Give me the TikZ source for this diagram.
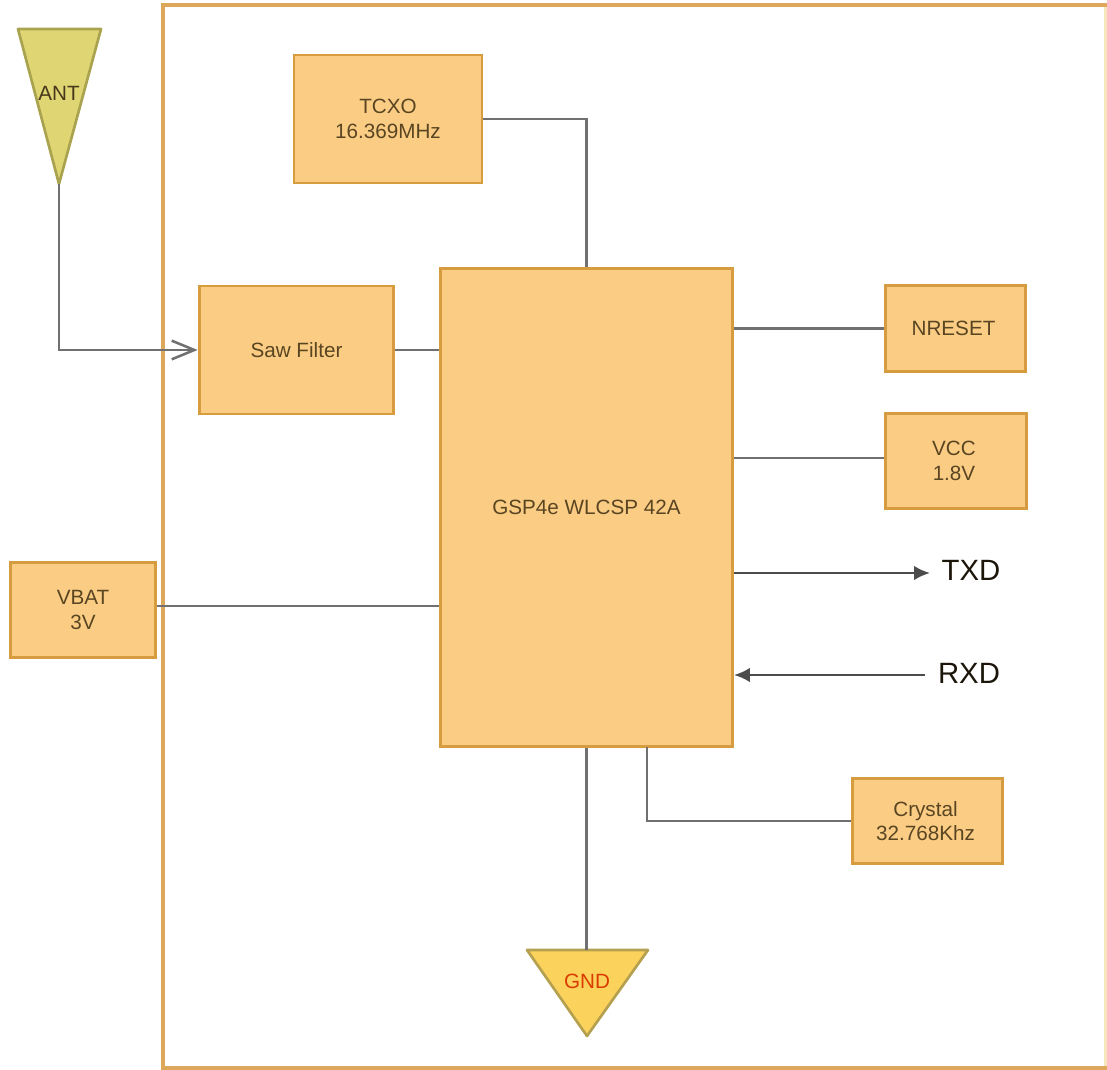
\documentclass[tikz,border=0pt]{standalone}
\usepackage{fontspec}
\setmainfont{Liberation Sans}
\usetikzlibrary{arrows.meta}
\definecolor{boxfill}{HTML}{FBCD84}
\definecolor{boxline}{HTML}{D89C40}
\definecolor{frameline}{HTML}{DDA85C}
\definecolor{framepale}{HTML}{F6E6BC}
\definecolor{antfill}{HTML}{DFD673}
\definecolor{antline}{HTML}{A9A24F}
\definecolor{gndfill}{HTML}{FBD25C}
\definecolor{gndline}{HTML}{B5A050}
\definecolor{wire}{HTML}{707070}
\definecolor{inktext}{HTML}{5A4522}
\tikzset{
  block/.style={draw=boxline,fill=boxfill,line width=2.2pt,align=center,inner sep=0pt,
    text=inktext,font=\fontsize{15.5}{18.5}\selectfont},
  wirelink/.style={draw=wire,line width=1.9pt},
  pinlabel/.style={text=black!70!inktext,font=\fontsize{22}{24}\selectfont,inner sep=0pt}
}
\begin{document}
\begin{tikzpicture}[x=.75pt,y=-.75pt]
\useasboundingbox (0,0) rectangle (1107,1070);
\draw[framepale,line width=2.4pt] (1106,5) -- (1106,1068);
\draw[frameline,line width=2.4pt] (1120,5) -- (163,5) -- (163,1068) -- (1120,1068);

    % triangles
    \coordinate (anttip) at (59,184);
    \coordinate (gndtop) at (586.5,950);
    \draw[fill=antfill,draw=antline,line width=2pt,line join=round] (18,29) -- (101,29) -- (anttip) -- cycle;
    \draw[fill=gndfill,draw=gndline,line width=2pt,line join=round] (527,950) -- (648,950) -- (587,1036) -- cycle;
    \node[inner sep=0pt,text=inktext!80!black,font=\fontsize{15.5}{18.5}\selectfont] at (59,93) (ANT) {ANT};
    \node[inner sep=0pt,text=red!45!orange!85!black,font=\fontsize{15.5}{18.5}\selectfont] at (587,981) (GND) {GND};

    % boxes
    \node[block,minimum width=141pt,minimum height=96pt] at (388,119) (TCXO) {TCXO\\16.369MHz};
    \node[block,minimum width=146pt,minimum height=96pt] at (296.5,350) (SAW) {Saw Filter};
    \node[block,minimum width=219pt,minimum height=359pt] at (586.5,507.5) (GSP) {GSP4e WLCSP 42A};
    \node[block,minimum width=105pt,minimum height=64pt] at (955.5,328.5) (NRESET) {NRESET\hspace*{3pt}};
    \node[block,minimum width=106pt,minimum height=71pt] at (956,461) (VCC) {VCC\hspace*{3pt}\\1.8V\hspace*{3pt}};
    \node[block,minimum width=109pt,minimum height=71pt] at (83,610) (VBAT) {VBAT\\3V};
    \node[block,minimum width=113pt,minimum height=64pt] at (927.5,821) (XTAL) {Crystal\hspace*{3pt}\\32.768Khz\hspace*{3pt}};

    \node[pinlabel] at (971,570) (TXD) {TXD};
    \node[pinlabel] at (969,673) (RXD) {RXD};

    % connectors
    \coordinate (txdend) at (930,573);
    \coordinate (rxdend) at (925,675);
    \draw[wirelink] (TCXO.east) -| (GSP.north);
    \draw[wirelink,-{Straight Barb[length=17pt,width=14pt]}] (anttip) |- (SAW.west);
    \draw[wirelink] (SAW.east) -- (GSP.west |- SAW.east);
    \draw[wirelink] (GSP.east |- NRESET.west) -- (NRESET.west);
    \draw[wirelink] (GSP.east |- 0,458) -- (VCC.west |- 0,458);
    \draw[wirelink] (VBAT.east |- 0,606) -- (GSP.west |- 0,606);
    \draw[wirelink,-{Latex[length=12pt,width=11pt]},black!70] (GSP.east |- txdend) -- (txdend);
    \draw[wirelink,-{Latex[length=12pt,width=11pt]},black!70] (rxdend) -- (GSP.east |- rxdend);
    \draw[wirelink] (GSP.south) -- (gndtop);
    \draw[wirelink] (647,747) |- (XTAL.west);

\end{tikzpicture}
\end{document}
